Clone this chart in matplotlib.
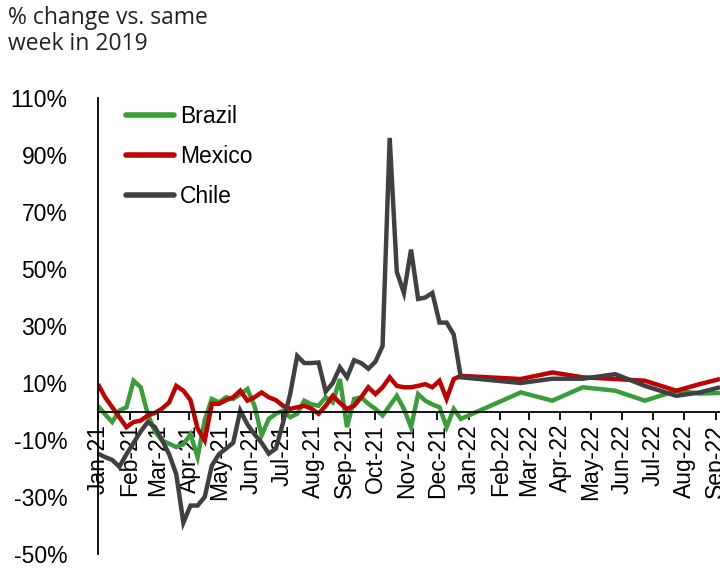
import pandas as pd
import matplotlib
matplotlib.use("Agg")
import matplotlib.pyplot as plt
import matplotlib.dates as mdates

# weekly readings for 2021 (52 weeks from 1 Jan 2021)
weeks_2021 = pd.date_range("2021-01-01", periods=52, freq="7D")

brazil_2021 = [2, -1, -3.7, 0.3, 1.5, 10.8, 8.5, -1, -7, -10.2,
               -11.3, -12.5, -11.5, -8, -16, -3, 4.4, 3.2, 5, 4.4,
               6.1, 7.9, 2, -8.4, -2.6, -0.8, 0.3, -2, -0.8, 3.8,
               2.5, 2, 5, 3.2, 11.4, -5.5, 4.4, 5, 2.7, 0.9,
               -1.4, 2, 5.5, 0.9, -5.5, 6.1, 3.8, 2.5, 1.5, -5.5,
               0.9, -2.6]
mexico_2021 = [9.6, 5, 1.5, -2, -5.5, -3.7, -3.2, -1.4, -0.5, 1,
               3.2, 9, 7.3, 4, -6, -10.2, 2.7, 2.7, 4, 5,
               7.3, 3.8, 5, 6.7, 5, 4, 2, 0.9, 1.5, 2,
               1, -0.8, 2, 5.5, 3, 0.9, 2, 5, 8.5, 6.1,
               8.5, 12, 9, 8.5, 8.5, 9, 9.6, 8.5, 10.8, 4.4,
               11.4, 12.5]
chile_2021 = [-14.8, -16, -17, -19.4, -15, -11, -7, -3.7, -5.5, -10,
              -15, -22, -39, -33, -33, -30, -19, -15, -13, -11,
              0.3, -4.5, -8, -11, -14.8, -13, -4, 6, 19.5, 17,
              17, 17.2, 7, 10, 15.5, 12, 18, 17, 15, 17.5,
              23, 96, 49, 41.6, 56.8, 39.5, 40, 41.6, 31.2, 31.2,
              27, 12]

# sparser readings for 2022
dates_2022 = pd.to_datetime(["2022-02-21", "2022-03-24", "2022-04-23", "2022-05-25",
                             "2022-06-23", "2022-07-24", "2022-08-16", "2022-09-05"])
brazil_2022 = [6.7, 3.8, 8.5, 7.3, 3.8, 7.3, 6.3, 6.5]
mexico_2022 = [11.4, 13.7, 12, 11.4, 10.8, 7.3, 9.6, 11.4]
chile_2022 = [10, 11.5, 11.5, 13.1, 9, 5.5, 6.7, 8.5]

dates = weeks_2021.append(dates_2022)

series = {
    "Brazil": (brazil_2021 + brazil_2022, "#3a9d3a"),
    "Mexico": (mexico_2021 + mexico_2022, "#c00000"),
    "Chile": (chile_2021 + chile_2022, "#404040"),
}

plt.rcParams["font.family"] = ["Liberation Sans", "DejaVu Sans"]

fig = plt.figure(figsize=(7.2, 5.72), dpi=100)
ax = fig.add_axes([98 / 720, 18 / 572, 1 - 98 / 720, 456 / 572])

for name, (vals, col) in series.items():
    ax.plot(dates, vals, color=col, lw=3.2, label=name, solid_joinstyle="miter",
            solid_capstyle="butt")

ax.set_ylim(-50, 110)
ax.set_yticks(range(-50, 111, 20))
ax.set_yticklabels([f"{v}%" for v in range(-50, 111, 20)])
ax.set_xlim(pd.Timestamp("2021-01-01"), pd.Timestamp("2022-09-05"))

ax.xaxis.set_major_locator(mdates.MonthLocator())
ax.xaxis.set_major_formatter(mdates.DateFormatter("%b-%y"))

for s in ["top", "right"]:
    ax.spines[s].set_visible(False)
ax.spines["bottom"].set_position(("data", 0))
ax.spines["bottom"].set_linewidth(1.3)
ax.spines["left"].set_linewidth(1.3)

ax.tick_params(axis="y", length=0, pad=22, labelsize=16.5, colors="black")
ax.tick_params(axis="x", direction="out", length=6, width=1.3, pad=3,
               labelsize=16.5, labelrotation=90)

leg = ax.legend(loc="upper left", bbox_to_anchor=(0.03, 1.005), frameon=False,
                fontsize=16.5, handlelength=2.1, handletextpad=0.25,
                labelspacing=0.75, borderaxespad=0)
for h in leg.get_lines():
    h.set_linewidth(4)
    h.set_solid_capstyle("round")

fig.text(8 / 720, 1 - 6 / 572, "% change vs. same\nweek in 2019", ha="left", va="top",
         fontsize=16.5, family="Open Sans", color="#222222", linespacing=1.1)

fig.savefig("out.png", dpi=100)
